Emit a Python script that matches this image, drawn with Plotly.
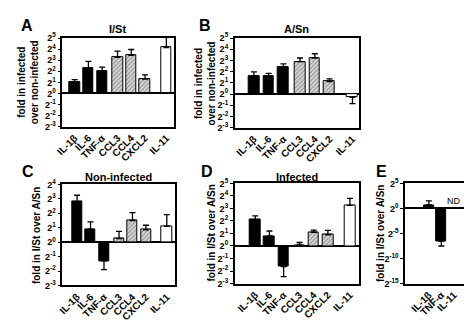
import plotly.graph_objects as go

# ---------------- data ----------------
cats7 = ["IL-1β", "IL-6", "TNF-α", "CCL3", "CCL4", "CXCL2", "IL-11"]
kind7 = ["cyto", "cyto", "cyto", "chemo", "chemo", "chemo", "il11"]

a_vals = [1.0, 2.25, 2.0, 3.25, 3.45, 1.3, 4.15]
a_errs = [0.25, 0.65, 0.38, 0.58, 0.52, 0.38, 1.3]

b_vals = [1.64, 1.64, 2.41, 2.9, 3.22, 1.12, -0.3]
b_errs = [0.34, 0.2, 0.29, 0.32, 0.38, 0.23, 0.55]

c_vals = [2.8, 0.9, -1.3, 0.25, 1.5, 0.85, 1.1]
c_errs = [0.45, 0.5, 0.6, 0.5, 0.55, 0.32, 0.8]

d_vals = [2.1, 0.8, -1.65, 0.08, 1.1, 0.9, 3.25]
d_errs = [0.3, 0.4, 0.8, 0.2, 0.17, 0.35, 0.55]

cats3 = ["IL-1β", "TNF-α", "IL-11"]
kind3 = ["cyto", "cyto", "il11"]
e_vals = [0.7, -6.5, None]
e_errs = [0.8, 1.0, None]

# ---------------- styles ----------------
W, H = 472, 320
FONT = "Liberation Sans, Arial, sans-serif"
fill = {"cyto": "black", "chemo": "#d8d8d8", "il11": "white"}
shape = {"cyto": "", "chemo": "/", "il11": ""}
group_off7 = [0, 0, 0, 0.12, 0.12, 0.12, 0.67]


def px_dom(a, b, axis):
    if axis == "x":
        return [a / W, b / W]
    return [1 - b / H, 1 - a / H]


panels = [
    dict(cats=cats7, kinds=kind7, vals=a_vals, errs=a_errs, off=group_off7,
         xd=(48, 161), yd=(24, 116), yr=(-3, 5), yt=list(range(-3, 6)), xr=(-0.9, 7.2), bw=0.78),
    dict(cats=cats7, kinds=kind7, vals=b_vals, errs=b_errs, off=group_off7,
         xd=(223, 349), yd=(24, 117), yr=(-3, 5), yt=list(range(-3, 6)), xr=(-1.3, 7.1), bw=0.73),
    dict(cats=cats7, kinds=kind7, vals=c_vals, errs=c_errs, off=group_off7,
         xd=(48, 162), yd=(176, 281), yr=(-3, 4), yt=list(range(-3, 5)), xr=(-1.1, 7.25), bw=0.75),
    dict(cats=cats7, kinds=kind7, vals=d_vals, errs=d_errs, off=group_off7,
         xd=(223, 349), yd=(175, 279), yr=(-3, 5), yt=list(range(-3, 6)), xr=(-1.45, 7.3), bw=0.75),
    dict(cats=cats3, kinds=kind3, vals=e_vals, errs=e_errs, off=[0, 0, 0],
         xd=(396, 467), yd=(175, 279), yr=(-15, 5), yt=[-15, -10, -5, 0, 5], xr=(-1.9, 3.7), bw=0.8),
]

fig = go.Figure()
layout = dict(width=W, height=H, margin=dict(l=0, r=0, t=0, b=0),
              paper_bgcolor="white", plot_bgcolor="white", showlegend=False,
              font=dict(family=FONT, size=10, color="black"), bargap=0)

for i, p in enumerate(panels):
    n = i + 1
    xa = "x" if n == 1 else f"x{n}"
    ya = "y" if n == 1 else f"y{n}"
    xs = [k + o for k, o in enumerate(p["off"])]
    vals = p["vals"]
    errs = p["errs"]
    up = [(e if (v is not None and v >= 0) else 0) if e is not None else 0 for v, e in zip(vals, errs)]
    dn = [(e if (v is not None and v < 0) else 0) if e is not None else 0 for v, e in zip(vals, errs)]
    fig.add_trace(go.Bar(
        x=xs, y=vals, xaxis=xa, yaxis=ya, width=p["bw"],
        marker=dict(color=[fill[k] for k in p["kinds"]],
                    line=dict(color="black", width=1),
                    pattern=dict(shape=[shape[k] for k in p["kinds"]], fgcolor="#555555",
                                 bgcolor="#d8d8d8", size=3, solidity=0.35)),
        error_y=dict(type="data", symmetric=False, array=up, arrayminus=dn,
                     color="black", thickness=1.3, width=3),
        cliponaxis=True,
    ))
    kx = "xaxis" if n == 1 else f"xaxis{n}"
    ky = "yaxis" if n == 1 else f"yaxis{n}"
    layout[kx] = dict(domain=px_dom(*p["xd"], "x"), anchor=ya, range=list(p["xr"]),
                      tickvals=xs, ticktext=p["cats"], tickangle=-45, ticks="",
                      showline=True, mirror=True, linecolor="black", linewidth=1.5,
                      showgrid=False, zeroline=False,
                      tickfont=dict(family=FONT, size=10, color="black", weight="bold"))
    layout[ky] = dict(domain=px_dom(*p["yd"], "y"), anchor=xa, range=list(p["yr"]),
                      tickvals=p["yt"], ticktext=[f"2<sup>{t}</sup>" for t in p["yt"]],
                      ticks="outside", ticklen=3, tickwidth=1, tickcolor="black",
                      showline=True, mirror=True, linecolor="black", linewidth=1.5,
                      showgrid=False, zeroline=True, zerolinecolor="black", zerolinewidth=1.5,
                      tickfont=dict(family=FONT, size=9, color="black", weight="bold"))

fig.update_layout(**layout)

ann = []
for t, x, y in [("A", 12, 11), ("B", 193, 11), ("C", 13, 163), ("D", 195, 163), ("E", 372, 163)]:
    ann.append(dict(text=t, x=x / W, y=1 - y / H, xref="paper", yref="paper", showarrow=False,
                    font=dict(size=16, family=FONT, weight="bold", color="black"),
                    xanchor="center", yanchor="middle"))
for t, x, y in [("I/St", 104, 15), ("A/Sn", 286, 15), ("Non-infected", 105, 168), ("Infected", 286, 168)]:
    ann.append(dict(text=t, x=x / W, y=1 - y / H, xref="paper", yref="paper", showarrow=False,
                    font=dict(size=11, family=FONT, weight="bold", color="black"),
                    xanchor="center", yanchor="middle"))
for t, x, y in [("fold in infected<br>over non-infected", 14, 70),
                ("fold in infected<br>over non-infected", 193, 71),
                ("fold in I/St over A/Sn", 22, 229),
                ("fold in I/St over A/Sn", 199, 227),
                ("fold in I/St over A/Sn", 371, 227)]:
    ann.append(dict(text=t, x=x / W, y=1 - y / H, xref="paper", yref="paper", showarrow=False,
                    textangle=-90, font=dict(size=10, family=FONT, weight="bold", color="black"),
                    xanchor="center", yanchor="middle"))
ann.append(dict(text="ND", x=2, y=0, xref="x5", yref="y5", showarrow=False, yanchor="bottom",
                font=dict(size=9, family=FONT, color="black")))
fig.update_layout(annotations=ann)

fig.write_html("out.html")
